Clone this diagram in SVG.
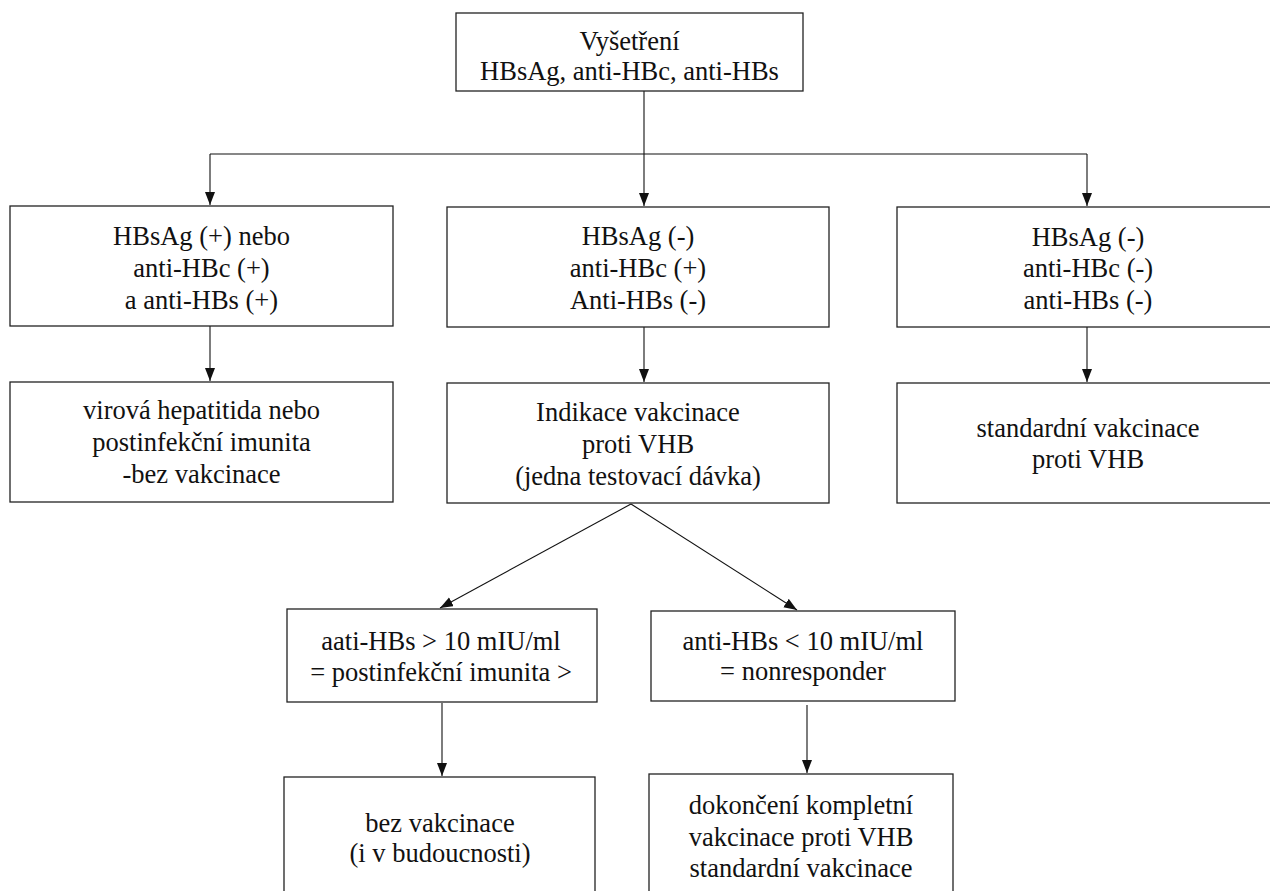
<svg xmlns="http://www.w3.org/2000/svg" width="1270" height="891" viewBox="0 0 1270 891">
<style>
.box{fill:#fff;stroke:#222;stroke-width:1.3}
.t{font-family:'Liberation Serif','Times New Roman',Times,'DejaVu Serif',serif;font-size:26.5px;fill:#111;text-anchor:middle}
.c{fill:none;stroke:#111;stroke-width:1.1}
</style>
<defs>
<marker id="ah" markerUnits="userSpaceOnUse" markerWidth="14" markerHeight="11" refX="13" refY="5" orient="auto">
<path d="M0,0 L13,5 L0,10 z" fill="#111"/>
</marker>
</defs>
<rect width="1270" height="891" fill="#fff"/>
<g id="connectors">
<path class="c" d="M644,91 V206" marker-end="url(#ah)"/>
<path class="c" d="M210,154 H1087"/>
<path class="c" d="M210,154 V205" marker-end="url(#ah)"/>
<path class="c" d="M1087,154 V206" marker-end="url(#ah)"/>
<path class="c" d="M210,326 V381" marker-end="url(#ah)"/>
<path class="c" d="M644,327 V382" marker-end="url(#ah)"/>
<path class="c" d="M1087,327 V382" marker-end="url(#ah)"/>
<path class="c" d="M631,504 L440,608" marker-end="url(#ah)"/>
<path class="c" d="M631,504 L797,610" marker-end="url(#ah)"/>
<path class="c" d="M442,703 V776" marker-end="url(#ah)"/>
<path class="c" d="M807,705 V773" marker-end="url(#ah)"/>
</g>
<g id="n-top">
<rect class="box" x="456" y="13" width="347" height="78"/>
<text class="t" font-family="Liberation Serif, serif" x="629.5" y="50">Vyšetření</text>
<text class="t" x="629.5" y="80">HBsAg, anti-HBc, anti-HBs</text>
</g>
<g id="n-left1">
<rect class="box" x="10" y="206" width="383" height="120"/>
<text class="t" x="201.5" y="245">HBsAg (+) nebo</text>
<text class="t" x="201.5" y="277">anti-HBc (+)</text>
<text class="t" x="201.5" y="309">a anti-HBs (+)</text>
</g>
<g id="n-left2">
<rect class="box" x="10" y="382" width="383" height="120"/>
<text class="t" x="201.5" y="419">virová hepatitida nebo</text>
<text class="t" x="201.5" y="451">postinfekční imunita</text>
<text class="t" x="201.5" y="483">-bez vakcinace</text>
</g>
<g id="n-mid1">
<rect class="box" x="447" y="207" width="382" height="120"/>
<text class="t" x="638" y="245">HBsAg (-)</text>
<text class="t" x="638" y="277">anti-HBc (+)</text>
<text class="t" x="638" y="309">Anti-HBs (-)</text>
</g>
<g id="n-mid2">
<rect class="box" x="447" y="383" width="382" height="120"/>
<text class="t" x="638" y="421">Indikace vakcinace</text>
<text class="t" x="638" y="453">proti VHB</text>
<text class="t" x="638" y="485">(jedna testovací dávka)</text>
</g>
<g id="n-right1">
<rect class="box" x="897" y="207" width="382" height="120"/>
<text class="t" x="1088" y="246">HBsAg (-)</text>
<text class="t" x="1088" y="277">anti-HBc (-)</text>
<text class="t" x="1088" y="309">anti-HBs (-)</text>
</g>
<g id="n-right2">
<rect class="box" x="897" y="383" width="382" height="120"/>
<text class="t" x="1088" y="437">standardní vakcinace</text>
<text class="t" x="1088" y="468">proti VHB</text>
</g>
<g id="n-ll">
<rect class="box" x="287" y="609" width="310" height="93"/>
<text class="t" x="441" y="650">aati-HBs &gt; 10 mIU/ml</text>
<text class="t" x="441" y="681">= postinfekční imunita &gt;</text>
</g>
<g id="n-lr">
<rect class="box" x="651" y="611" width="304" height="90"/>
<text class="t" x="803" y="650">anti-HBs &lt; 10 mIU/ml</text>
<text class="t" x="803" y="680">= nonresponder</text>
</g>
<g id="n-bl">
<rect class="box" x="284" y="777" width="311" height="130"/>
<text class="t" x="440" y="832">bez vakcinace</text>
<text class="t" x="440" y="862">(i v budoucnosti)</text>
</g>
<g id="n-br">
<rect class="box" x="649" y="774" width="304" height="130"/>
<text class="t" x="801" y="814">dokončení kompletní</text>
<text class="t" x="801" y="846">vakcinace proti VHB</text>
<text class="t" x="801" y="877">standardní vakcinace</text>
</g>
</svg>
